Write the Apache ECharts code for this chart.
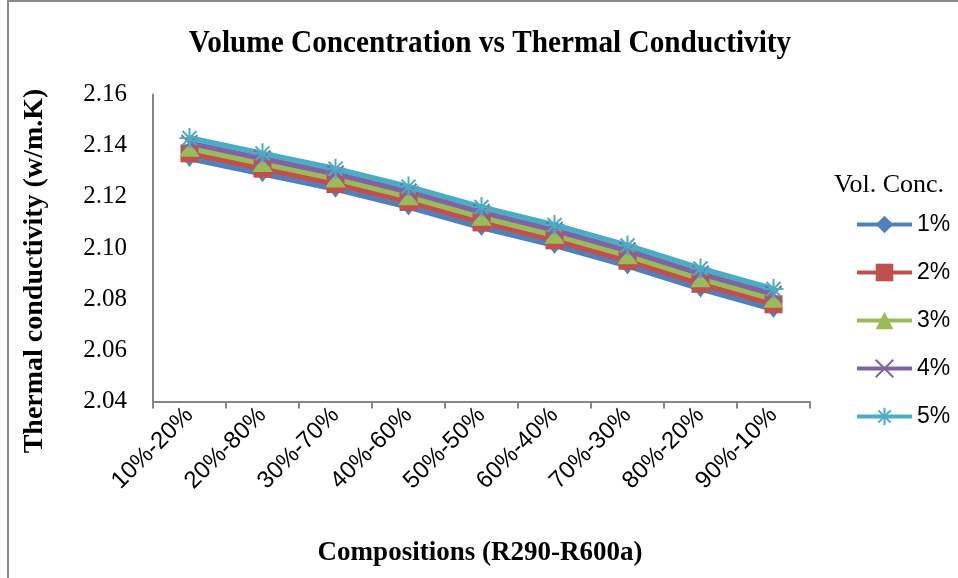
<!DOCTYPE html>
<html><head><meta charset="utf-8">
<script src="https://cdn.jsdelivr.net/npm/echarts@6/dist/echarts.min.js"></script>
<style>html,body{margin:0;padding:0;background:#fff}#c{width:958px;height:578px}</style>
</head><body><div id="c"></div>
<script>
var categories = ['10%-20%','20%-80%','30%-70%','40%-60%','50%-50%','60%-40%','70%-30%','80%-20%','90%-10%'];
var seriesNames = ['1%','2%','3%','4%','5%'];
var s1 = [2.135, 2.129, 2.123, 2.116, 2.108, 2.101, 2.093, 2.084, 2.076];
var s2 = [2.137, 2.131, 2.125, 2.118, 2.110, 2.103, 2.095, 2.086, 2.078];
var s3 = [2.139, 2.133, 2.127, 2.120, 2.112, 2.105, 2.097, 2.088, 2.080];
var s4 = [2.141, 2.135, 2.129, 2.122, 2.114, 2.107, 2.099, 2.090, 2.082];
var s5 = [2.143, 2.137, 2.131, 2.124, 2.116, 2.109, 2.101, 2.092, 2.084];
var yMin = 2.04, yMax = 2.16, yStep = 0.02;

var colors = ['#4F81BD','#C0504D','#9BBB59','#8064A2','#4BACC6'];
var symbols = ['diamond','rect','triangle',
  'path://M0,0L10,10M10,0L0,10',
  'path://M5,0L5,10M0,5L10,5M1.5,1.5L8.5,8.5M8.5,1.5L1.5,8.5'];
var sizes = [[13,17],[18,18],[20,17],[16,16],[20,20]];
var allData = [s1,s2,s3,s4,s5];

var chart = echarts.init(document.getElementById('c'));
var series = allData.map(function(d,i){
  var stroke = i >= 3;
  return {
    name: seriesNames[i], type: 'line', data: d,
    symbol: symbols[i], symbolSize: sizes[i], showSymbol: true,
    lineStyle: {color: colors[i], width: 5.5},
    itemStyle: stroke ? {color: colors[i], borderColor: colors[i], borderWidth: 2} : {color: colors[i], borderWidth: 0},
    emphasis: {disabled: true}
  };
});
chart.setOption({
  animation: false,
  backgroundColor: '#fff',
  grid: {left: 153, right: 148, top: 94.5, bottom: 176.5, containLabel: false},
  xAxis: {
    type: 'category', data: categories, boundaryGap: true,
    axisLine: {lineStyle: {color: '#868686', width: 2}},
    axisTick: {show: true, length: 7, alignWithLabel: false, lineStyle: {color: '#868686', width: 2}},
    axisLabel: {rotate: 45, interval: 0, fontFamily: 'Liberation Sans', fontSize: 24, color: '#000', margin: 10}
  },
  yAxis: {
    type: 'value', min: yMin, max: yMax, interval: yStep,
    splitLine: {show: false},
    axisLine: {show: true, lineStyle: {color: '#868686', width: 2}},
    axisTick: {show: false},
    axisLabel: {formatter: function(v){return v.toFixed(2);}, fontFamily: 'Liberation Serif', fontSize: 25, color: '#000', margin: 26}
  },
  legend: {
    orient: 'vertical', left: 850, top: 208, itemWidth: 55, itemHeight: 22, itemGap: 25,
    lineStyle: {width: 4},
    textStyle: {fontFamily: 'Liberation Sans', fontSize: 23, lineHeight: 20, color: '#000'},
    data: seriesNames
  },
  graphic: [
    {type: 'polyline', shape: {points: [[8,578],[8,1],[958,1]]}, style: {stroke: '#8a8a8a', lineWidth: 2, fill: null}},
    {type: 'text', x: 490, y: 44, scaleX: 0.915, style: {text: 'Volume Concentration vs Thermal Conductivity', font: 'bold 32px "Liberation Serif"', fill: '#000', align: 'center', verticalAlign: 'middle'}},
    {type: 'text', x: 35, y: 271, rotation: Math.PI/2, style: {text: 'Thermal conductivity (w/m.K)', font: 'bold 28px "Liberation Serif"', fill: '#000', align: 'center', verticalAlign: 'middle'}},
    {type: 'text', x: 480, y: 553, style: {text: 'Compositions (R290-R600a)', font: 'bold 27px "Liberation Serif"', fill: '#000', align: 'center', verticalAlign: 'middle'}},
    {type: 'text', x: 889, y: 185, style: {text: 'Vol. Conc.', font: '26px "Liberation Serif"', fill: '#000', align: 'center', verticalAlign: 'middle'}}
  ],
  series: series
});
</script></body></html>
